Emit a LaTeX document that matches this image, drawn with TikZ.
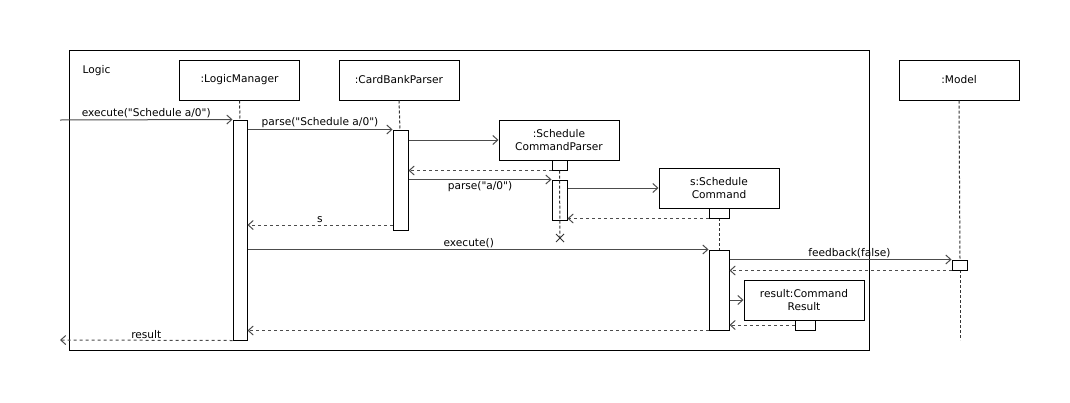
\documentclass[tikz,border=0pt]{standalone}
\usepackage{fontspec}
\setmainfont{DejaVu Sans}[Ligatures=TeXOff]
\usetikzlibrary{arrows.meta}

\tikzset{
  obj/.style = {draw, line width=1pt, fill=white, minimum width=120pt, minimum height=40pt, inner sep=0pt, align=center, font=\fontsize{10.6}{13}\selectfont},
  act/.style = {draw, line width=1pt, fill=white, minimum width=15pt, inner sep=0pt},
  life/.style = {line width=1pt, dash pattern=on 3pt off 2pt, black!80},
  msg/.style = {line width=1pt, black!70, -{Straight Barb[length=5pt,width=9pt]}},
  ret/.style = {msg, dash pattern=on 3pt off 3pt},
  lbl/.style = {black, font=\fontsize{10.6}{13}\selectfont, inner sep=1.5pt}
}

\begin{document}
\begin{tikzpicture}[x=1pt, y=-1pt]
\useasboundingbox (0,0) rectangle (1070,402);

% frame
\draw[line width=1pt] (69,50) rectangle (869,350);
\node[lbl, anchor=west] (logic) at (81,71) {Logic};

% objects
\node[obj] (lm) at (239.5,80) {:LogicManager};
\node[obj] (cbp) at (399,80) {:CardBankParser};
\node[obj] (model) at (959,80) {:Model};
\node[obj] (scp) at (559,140) {:Schedule\\CommandParser};
\node[obj] (sc) at (719,188) {s:Schedule\\Command};
\node[obj] (res) at (804,300) {result:Command\\Result};

% lifelines
\draw[life] (lm.south) -- (240,120);
\draw[life] (cbp.south) -- (400,130);
\draw[life] (model.south) -- (960,260);
\draw[life] (960,270) -- (960,340);
\draw[life] (719,218) -- (719,250);

% activations
\node[act, minimum width=14pt, minimum height=220pt] (actLM) at (240,230) {};
\node[act, minimum height=100pt] (actCBP) at (400.5,180) {};
\node[act, minimum height=10pt] (scpTail) at (559.5,165) {};
\node[act, minimum height=40pt] (actSCP) at (559.5,200) {};
\node[act, minimum width=20pt, minimum height=10pt] (scTail) at (719,213) {};
\node[act, minimum width=20pt, minimum height=80pt] (actSC) at (719,290) {};
\node[act, minimum width=20pt, minimum height=10pt] (resTail) at (805,325) {};
\node[act, minimum height=10pt] (actModel) at (959.5,265) {};

% destroy
\coordinate (kill) at (560,238);
\draw[life] (scpTail.south) -- (kill);
\draw[line width=1pt, black!80] (kill) +(-4,-4) -- +(4,4) (kill) +(-4,4) -- +(4,-4);

% levels
\coordinate (in) at (60,120);
\coordinate (out) at (60,340);
\coordinate (ys) at (0,225);

% messages
\draw[msg] (in) -- (actLM.north west) node[lbl, midway, above] {execute("Schedule a/0")};
\draw[msg] (actLM.east |- actCBP.north) -- (actCBP.north west) node[lbl, midway, above] {parse("Schedule a/0")};
\draw[msg] (actCBP.east |- scp.west) -- (scp.west);
\draw[ret] (scpTail.south west) -- (actCBP.east |- scpTail.south);
\draw[msg] (actCBP.east |- actSCP.north) -- (actSCP.north west) node[lbl, midway, below] {parse("a/0")};
\draw[msg] (actSCP.east |- sc.west) -- (sc.west);
\draw[ret] (scTail.south west) -- (actSCP.east |- scTail.south);
\draw[ret] (actCBP.west |- ys) -- (actLM.east |- ys) node[lbl, midway, above] {s};
\draw[msg] (actLM.east |- actSC.north) -- (actSC.north west) node[lbl, pos=0.48, above] {execute()};
\draw[msg] (actSC.east |- actModel.north) -- (actModel.north west) node[lbl, pos=0.54, above] {feedback(false)};
\draw[ret] (actModel.south west) -- (actSC.east |- actModel.south);
\draw[msg] (actSC.east |- res.west) -- (res.west);
\draw[ret] (resTail.west) -- (actSC.east |- resTail.west);
\draw[ret] (actSC.south west) -- (actLM.east |- actSC.south);
\draw[ret] (actLM.south west) -- (out) node[lbl, midway, above] {result};
\end{tikzpicture}
\end{document}
